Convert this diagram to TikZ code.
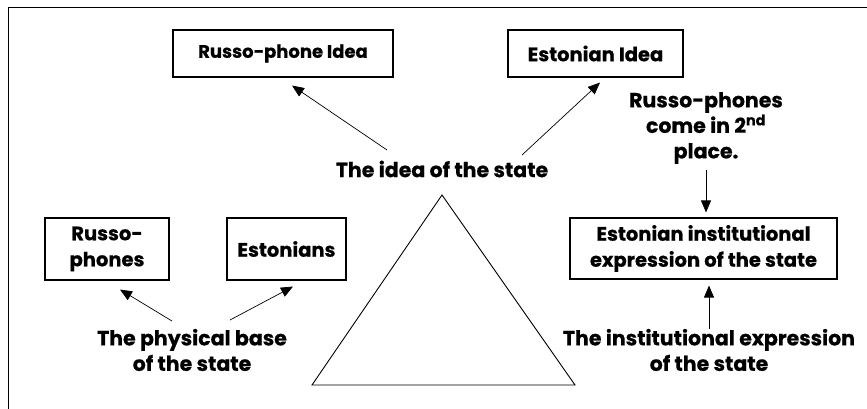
\documentclass[tikz,border=0pt]{standalone}
\usepackage{fontspec}
\setmainfont{Poppins}[BoldFeatures={FakeBold=0.6}]
\usepackage{tikz}
\usetikzlibrary{arrows.meta, positioning, calc}

\tikzset{
  statebox/.style={draw, line width=1.1pt, inner sep=0pt, align=center,
                   font=\bfseries\fontsize{19.5}{26}\selectfont},
  statelbl/.style={align=center, inner sep=2pt,
                   font=\bfseries\fontsize{20.5}{25.5}\selectfont},
  link/.style={-{Triangle[length=12pt, width=10pt]}, line width=0.7pt}
}

\begin{document}
\begin{tikzpicture}[x=1pt, y=-1pt]
  \useasboundingbox (0,0) rectangle (867,409);
  % frame, open at right and bottom
  \draw[line width=1pt] (8,409) -- (8,8) -- (867,8);

  % the idea of the state
  \node[statebox, minimum width=220pt, minimum height=47pt,
        font=\bfseries\fontsize{18}{26}\selectfont] (rpidea) at (283,53.5) {Russo-phone Idea};
  \node[statebox, minimum width=175pt, minimum height=47pt] (estidea) at (595.5,53.5) {Estonian Idea};
  \node[statelbl] (idea) at (442,169) {The idea of the state};

  % the physical base
  \node[statebox, minimum width=124pt, minimum height=62pt] (rphones) at (107,249) {Russo-\\phones};
  \node[statebox, minimum width=119pt, minimum height=62pt] (estonians) at (286.5,249) {Estonians};
  \node[statelbl] (phys) at (192,350) {The physical base\\of the state};

  % the institutional expression
  \node[statelbl] (second) at (706,128) {Russo-phones\\come in 2\textsuperscript{nd}\\place.};
  \node[statebox, minimum width=267pt, minimum height=61pt] (inst) at (703.5,248.5) {Estonian institutional\\expression of the state};
  \node[statelbl] (instlbl) at (709,350) {The institutional expression\\of the state};

  % triangle
  \draw[line width=0.9pt] (442,195) -- (575,385) -- (312,385) -- cycle;

  % arrows
  \draw[link] ([xshift=-55pt, yshift=19pt]idea.center) -- ([xshift=9pt, yshift=-8pt]rpidea.south);
  \draw[link] ([xshift=80pt, yshift=14pt]idea.center) -- ([xshift=4.5pt, yshift=-5pt]estidea.south);
  \draw[link] ([xshift=-20pt, yshift=29pt]phys.center) -- ([xshift=13pt, yshift=-9pt]rphones.south);
  \draw[link] ([xshift=38pt, yshift=30pt]phys.center) -- ([xshift=6.5pt, yshift=-6pt]estonians.south);
  \draw[link, shorten <=4pt, shorten >=5pt] (second.south) -- (second.south |- inst.north);
  \draw[link, shorten >=6pt] ([yshift=-2pt]instlbl.north) -- (instlbl.north |- inst.south);
\end{tikzpicture}
\end{document}
